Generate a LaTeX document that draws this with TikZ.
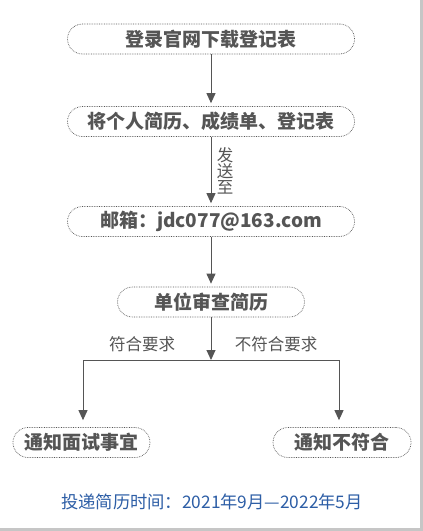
\documentclass[tikz,border=0pt]{standalone}
\usepackage{fontspec}
\newfontfamily\cjk{Noto Sans CJK SC}
\usetikzlibrary{arrows.meta}
\definecolor{flowgray}{HTML}{555555}
\definecolor{dateblue}{HTML}{2D5EA6}

\begin{document}
\begin{tikzpicture}[x=1pt,y=-1pt, >={Triangle[length=10pt,width=9pt]},
    bnode/.style={draw=flowgray,densely dotted,line width=0.7pt,rounded corners=15pt,minimum height=30pt,inner sep=0pt,text=flowgray,font=\cjk\bfseries\fontsize{19}{21}\selectfont},
    lnode/.style={text=flowgray,inner sep=0pt,font=\cjk\fontsize{16.5}{17}\selectfont},
    flow/.style={->,draw=flowgray,line width=1pt,shorten >=3pt}]
    \useasboundingbox (0,0) rectangle (423,531);
    \fill[white] (0,0) rectangle (423,531);
    \draw[gray!45,line width=2.5pt] (421.5,0) -- (421.5,529.5) -- (0,529.5);

    \node[bnode,minimum width=287pt] (b1) at (211,39) {登录官网下载登记表};
    \node[bnode,minimum width=287pt] (b2) at (211,121.5) {将个人简历、成绩单、登记表};
    \node[bnode,minimum width=287pt] (b3) at (211,221.5) {邮箱：jdc077@163.com};
    \node[bnode,minimum width=187pt] (b4) at (211,302) {单位审查简历};
    \node[bnode,minimum width=137pt] (b5) at (81.5,442.5) {通知面试事宜};
    \node[bnode,minimum width=138pt] (b6) at (342,442.5) {通知不符合};
    \coordinate (split) at (211,360);

    \node[lnode,align=center] (send) at (225,171) {发\\[-1pt]送\\[-1pt]至};
    \node[lnode] (ok) at (142,344) {符合要求};
    \node[lnode] (no) at (276,344) {不符合要求};
    \node[text=dateblue,font=\cjk\fontsize{17.3}{18}\selectfont] (date) at (212,502) {投递简历时间：2021年9月—2022年5月};

    \draw[flow] (b1) -- (b2);
    \draw[flow] (b2) -- (b3);
    \draw[flow] (b3) -- (b4);
    \draw[flow,shorten >=0pt] (b4) -- (split);
    \draw[flow,shorten >=7pt] (split) -| ([xshift=1.5pt]b5.north);
    \draw[flow,shorten >=7pt] (split) -| ([xshift=-3pt]b6.north);
\end{tikzpicture}
\end{document}
